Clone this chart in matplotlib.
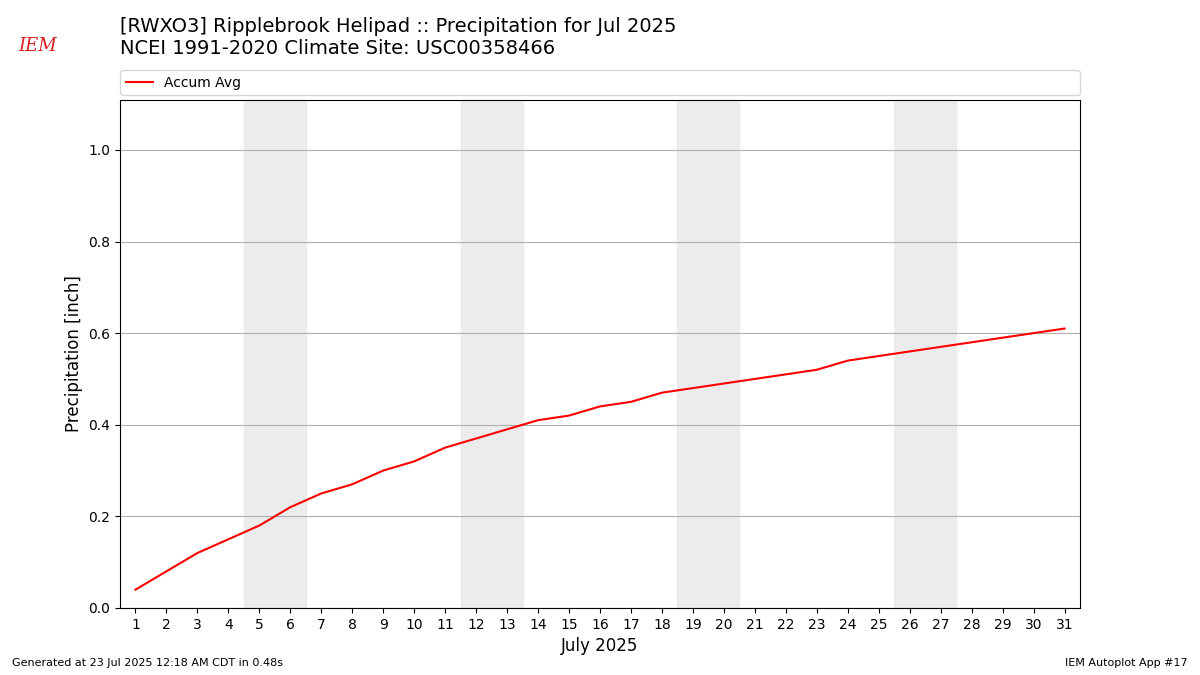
import matplotlib
matplotlib.use("Agg")
import matplotlib.pyplot as plt

days = list(range(1, 32))
accum_avg = [0.04, 0.08, 0.12, 0.15, 0.18, 0.22, 0.25, 0.27, 0.30, 0.32,
             0.35, 0.37, 0.39, 0.41, 0.42, 0.44, 0.45, 0.47, 0.48, 0.49,
             0.50, 0.51, 0.52, 0.54, 0.55, 0.56, 0.57, 0.58, 0.59, 0.60, 0.61]
weekends = [(5, 6), (12, 13), (19, 20), (26, 27)]

fig = plt.figure(figsize=(12, 6.75), dpi=100)
ax = fig.add_axes((0.1, 0.0993, 0.8, 0.7526))

for a, b in weekends:
    ax.axvspan(a - 0.5, b + 0.5, color="#ececec", zorder=0)
line, = ax.plot(days, accum_avg, color="red", lw=1.5, label="Accum Avg", zorder=3)

ax.set_xlim(0.5, 31.5)
ax.set_ylim(0, 1.109)
ax.set_xticks(days)
ax.set_yticks([0, 0.2, 0.4, 0.6, 0.8, 1.0])
ax.yaxis.grid(True, color="#b0b0b0", lw=0.8)
ax.set_axisbelow(True)
ax.set_xlabel("July 2025", fontsize=12)
ax.set_ylabel("Precipitation [inch]", fontsize=12)

leg = fig.legend(handles=[line], loc="lower left", bbox_to_anchor=(0.1, 0.859, 0.8, 0.037),
                 mode="expand", fontsize=10, frameon=True, borderaxespad=0)

fig.text(0.1, 0.945, "[RWXO3] Ripplebrook Helipad :: Precipitation for Jul 2025\n"
         "NCEI 1991-2020 Climate Site: USC00358466", fontsize=14, va="center")
fig.text(0.01, 0.013, "Generated at 23 Jul 2025 12:18 AM CDT in 0.48s", fontsize=8)
fig.text(0.99, 0.013, "IEM Autoplot App #17", fontsize=8, ha="right")
fig.text(0.031, 0.932, "IEM", fontsize=13, color="#d62020", family="DejaVu Serif",
         style="italic", ha="center", va="center")

fig.savefig("out.png", dpi=100)
